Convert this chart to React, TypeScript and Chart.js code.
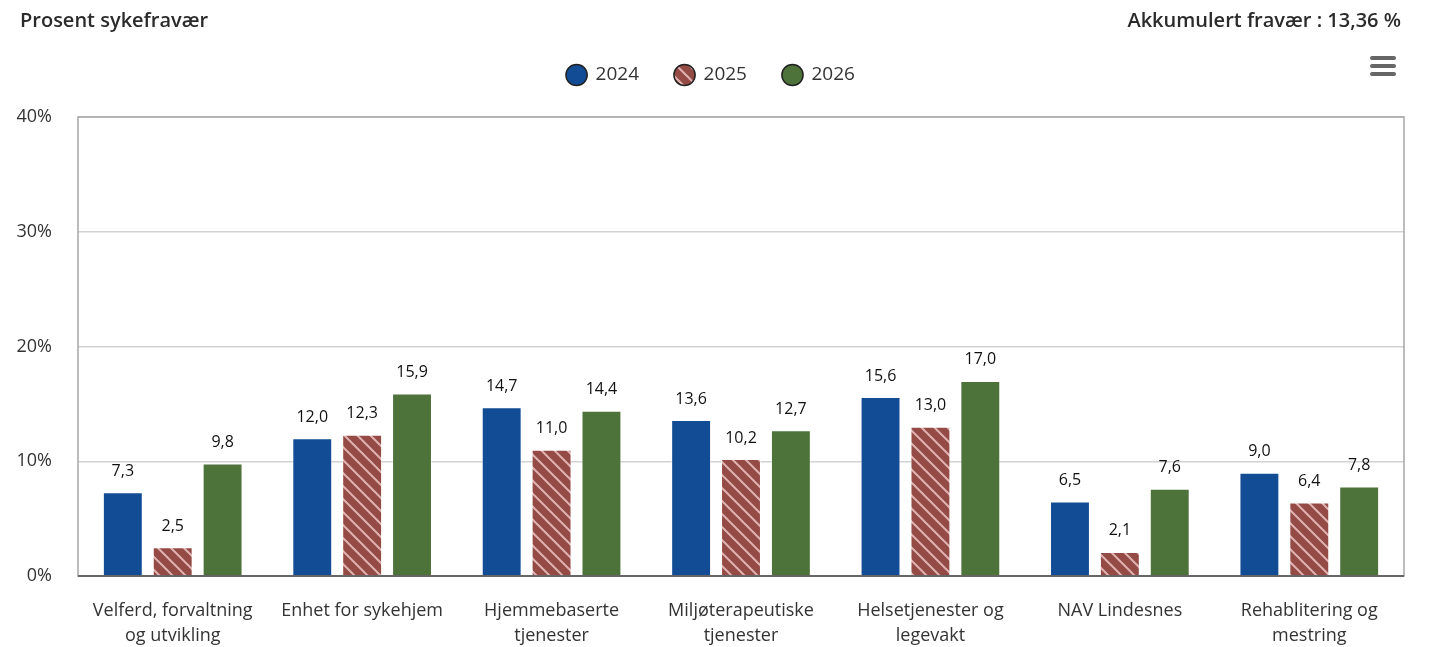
import React, { useEffect, useRef } from 'react';
import { Chart, registerables } from 'chart.js';

Chart.register(...registerables);

const categories: (string | string[])[] = [
  ['Velferd, forvaltning', 'og utvikling'],
  'Enhet for sykehjem',
  ['Hjemmebaserte', 'tjenester'],
  ['Miljøterapeutiske', 'tjenester'],
  ['Helsetjenester og', 'legevakt'],
  'NAV Lindesnes',
  ['Rehablitering og', 'mestring'],
];
const seriesNames = ['2024', '2025', '2026'];
const values2024 = [7.3, 12.0, 14.7, 13.6, 15.6, 6.5, 9.0];
const values2025 = [2.5, 12.3, 11.0, 10.2, 13.0, 2.1, 6.4];
const values2026 = [9.8, 15.9, 14.4, 12.7, 17.0, 7.6, 7.8];
const yTickValues = [0, 10, 20, 30, 40];
const chartTitle = 'Prosent sykefravær';
const accumulatedText = 'Akkumulert fravær : 13,36 %';

const FONT = "'Open Sans', 'Noto Sans', sans-serif";

function makeHatch(): CanvasPattern | string {
  const n = 13;
  const c = document.createElement('canvas');
  c.width = n;
  c.height = n;
  const g = c.getContext('2d');
  if (!g) return '#944A45';
  g.fillStyle = '#944A45';
  g.fillRect(0, 0, n, n);
  g.strokeStyle = 'rgba(236,196,196,0.85)';
  g.lineWidth = 2;
  g.beginPath();
  g.moveTo(0, 0);
  g.lineTo(n, n);
  g.moveTo(-2, n - 2);
  g.lineTo(2, n + 2);
  g.moveTo(n - 2, -2);
  g.lineTo(n + 2, 2);
  g.stroke();
  const p = g.createPattern(c, 'repeat');
  return p || '#944A45';
}

const plotBorderPlugin = {
  id: 'plotBorder',
  beforeLayout(chart: any) {
    const lg = chart.legend;
    if (lg && !lg.__patched) {
      const orig = lg.fit;
      lg.fit = function () {
        orig.call(this);
        this.height = 87.5;
      };
      lg.__patched = true;
    }
  },
  afterLayout(chart: any) {
    const lg = chart.legend;
    if (lg) {
      lg.left += 9;
      lg.right += 9;
    }
  },
  beforeDatasetsDraw(chart: any) {
    const { ctx, chartArea } = chart;
    ctx.save();
    ctx.strokeStyle = '#a6a6a6';
    ctx.lineWidth = 1.5;
    ctx.strokeRect(chartArea.left, chartArea.top, chartArea.right - chartArea.left, chartArea.bottom - chartArea.top);
    ctx.strokeStyle = '#666666';
    ctx.lineWidth = 2;
    ctx.beginPath();
    ctx.moveTo(chartArea.left, chartArea.bottom);
    ctx.lineTo(chartArea.right, chartArea.bottom);
    ctx.stroke();
    ctx.restore();
  },
  afterDatasetsDraw(chart: any) {
    const { ctx } = chart;
    ctx.save();
    ctx.font = `16px ${FONT}`;
    ctx.fillStyle = '#111111';
    ctx.textAlign = 'center';
    ctx.textBaseline = 'middle';
    chart.data.datasets.forEach((ds: any, di: number) => {
      const meta = chart.getDatasetMeta(di);
      meta.data.forEach((el: any, i: number) => {
        const v = ds.data[i] as number;
        ctx.fillText(v.toFixed(1).replace('.', ','), el.x, el.y - 21);
      });
    });
    ctx.restore();
  },
};

export default function App() {
  const ref = useRef<HTMLCanvasElement | null>(null);

  useEffect(() => {
    if (!ref.current) return;
    Chart.defaults.font.family = FONT;
    const hatch = makeHatch();
    const chart = new Chart(ref.current, {
      type: 'bar',
      data: {
        labels: categories,
        datasets: [
          { label: seriesNames[0], data: values2024, backgroundColor: '#124C95', borderColor: 'rgba(255,255,255,0.5)', borderWidth: 1 },
          { label: seriesNames[1], data: values2025, backgroundColor: hatch as any, borderColor: 'rgba(255,255,255,0.5)', borderWidth: 1 },
          { label: seriesNames[2], data: values2026, backgroundColor: '#4D723A', borderColor: 'rgba(255,255,255,0.5)', borderWidth: 1 },
        ],
      },
      options: {
        animation: false,
        responsive: false,
        maintainAspectRatio: false,
        layout: { padding: { top: 29.5, left: 0, right: 31, bottom: 0 } },
        datasets: { bar: { categoryPercentage: 0.79, barPercentage: 0.8 } } as any,
        plugins: {
          tooltip: { enabled: false },
          legend: {
            display: true,
            position: 'top',
            labels: {
              usePointStyle: true,
              pointStyle: 'circle',
              boxHeight: 15,
              padding: 36,
              color: '#333333',
              font: { size: 19, family: FONT },
              generateLabels: (ch: any) => {
                const items = (Chart.defaults.plugins.legend.labels as any).generateLabels(ch);
                items.forEach((it: any) => {
                  it.strokeStyle = '#222222';
                  it.lineWidth = 1.5;
                  it.pointStyle = 'circle';
                });
                return items;
              },
            },
          },
          title: { display: false },
        },
        scales: {
          x: {
            grid: { display: false, drawTicks: false },
            border: { display: false },
            ticks: {
              color: '#333333',
              padding: 22.4,
              maxRotation: 0,
              autoSkip: false,
              font: { size: 18, family: FONT, lineHeight: 1.4 },
            },
            afterFit: (s: any) => {
              s.height = 71;
            },
          },
          y: {
            min: 0,
            max: 40,
            afterBuildTicks: (s: any) => {
              s.ticks = yTickValues.map((v) => ({ value: v }));
            },
            grid: { color: (c: any) => (c.tick && c.tick.value === 0 ? 'rgba(0,0,0,0)' : '#d2d2d2'), lineWidth: 1.5, drawTicks: false },
            border: { display: false },
            ticks: {
              color: '#333333',
              padding: 26,
              font: { size: 18, family: FONT },
              callback: (v: any) => `${v}%`,
            },
            afterFit: (s: any) => {
              s.width = 78;
            },
          },
        },
      },
      plugins: [plotBorderPlugin],
    });
    return () => chart.destroy();
  }, []);

  const bar = (top: number) => (
    <div
      style={{ position: 'absolute', left: 1370, top, width: 26, height: 4, background: '#666666', borderRadius: 2 }}
    />
  );

  return (
    <div style={{ position: 'absolute', left: 0, top: 0, width: 1435, height: 647, background: '#ffffff', fontFamily: FONT }}>
      <canvas ref={ref} width={1435} height={647} style={{ position: 'absolute', left: 0, top: 0, width: 1435, height: 647 }} />
      <div style={{ position: 'absolute', left: 20, top: 6, fontSize: 20, lineHeight: '28px', fontWeight: 600, color: '#2b2b2b', whiteSpace: 'nowrap' }}>
        {chartTitle}
      </div>
      <div style={{ position: 'absolute', right: 34, top: 6, fontSize: 20, lineHeight: '28px', fontWeight: 600, color: '#2b2b2b', whiteSpace: 'nowrap' }}>
        {accumulatedText}
      </div>
      {bar(56)}
      {bar(64)}
      {bar(72)}
    </div>
  );
}
